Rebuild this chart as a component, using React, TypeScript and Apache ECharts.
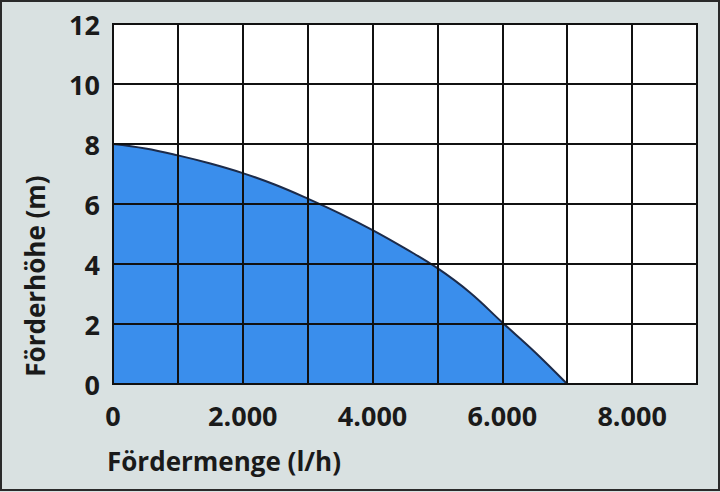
import React, { useEffect, useRef } from "react";
import * as echarts from "echarts";

const flowRates = [0, 500, 1000, 1500, 2000, 2500, 3000, 3500, 4000, 4500, 5000, 5500, 6000, 6500, 7000];
const heads = [8, 7.85, 7.62, 7.35, 7.03, 6.64, 6.18, 5.68, 5.13, 4.52, 3.86, 3.05, 2.05, 1.07, 0];
const xAxisName = "Fördermenge (l/h)";
const yAxisName = "Förderhöhe (m)";

const FONT = "'Open Sans', 'DejaVu Sans', sans-serif";

function fmtThousands(v: number): string {
  if (v === 0) return "0";
  const s = String(Math.round(v));
  return s.replace(/\B(?=(\d{3})+(?!\d))/g, ".");
}

export default function App() {
  const ref = useRef<HTMLDivElement>(null);
  useEffect(() => {
    if (!ref.current) return;
    const chart = echarts.init(ref.current, undefined, { renderer: "svg" });
    chart.setOption({
      animation: false,
      backgroundColor: "#d9e1e1",
      grid: {
        left: 113,
        top: 24,
        right: 23,
        bottom: 108,
        containLabel: false,
        outerBoundsMode: "none",
        show: true,
        backgroundColor: "#ffffff",
        borderColor: "#111111",
        borderWidth: 2,
      },
      graphic: [
        {
          type: "rect",
          shape: { x: 1, y: 1, width: 718, height: 489 },
          style: { fill: "none", stroke: "#2a2a2a", lineWidth: 2 },
          silent: true,
        },
        {
          type: "text",
          x: 107,
          y: 461,
          style: {
            text: xAxisName,
            fontFamily: FONT,
            fontWeight: "bold",
            fontSize: 26,
            fill: "#1a1a1a",
            align: "left",
            verticalAlign: "middle",
          },
          silent: true,
        },
        {
          type: "text",
          x: 35,
          y: 276,
          rotation: Math.PI / 2,
          style: {
            text: yAxisName,
            fontFamily: FONT,
            fontWeight: "bold",
            fontSize: 26,
            fill: "#1a1a1a",
            align: "center",
            verticalAlign: "middle",
          },
          silent: true,
        },
      ],
      xAxis: {
        type: "value",
        min: 0,
        max: 9000,
        interval: 1000,
        z: 5,
        axisLine: { show: true, lineStyle: { color: "#111111", width: 2 } },
        axisTick: { show: false },
        splitLine: { show: true, lineStyle: { color: "#111111", width: 2 } },
        axisLabel: {
          margin: 18,
          fontFamily: FONT,
          fontWeight: "bold",
          fontSize: 27,
          color: "#1a1a1a",
          formatter: (v: number) => (v % 2000 === 0 && v < 9000 ? fmtThousands(v) : ""),
        },
      },
      yAxis: {
        type: "value",
        min: 0,
        max: 12,
        interval: 2,
        z: 5,
        axisLine: { show: true, lineStyle: { color: "#111111", width: 2 } },
        axisTick: { show: false },
        splitLine: { show: true, lineStyle: { color: "#111111", width: 2 } },
        axisLabel: {
          margin: 13,
          fontFamily: FONT,
          fontWeight: "bold",
          fontSize: 27,
          color: "#1a1a1a",
        },
      },
      series: [
        {
          type: "line",
          z: 1,
          smooth: 0.4,
          showSymbol: false,
          data: flowRates.map((x, i) => [x, heads[i]]),
          lineStyle: { color: "#1c2b4a", width: 2 },
          areaStyle: { color: "#3a8eec", opacity: 1 },
        },
      ],
    });
    return () => chart.dispose();
  }, []);
  return (
    <div
      ref={ref}
      style={{ position: "fixed", left: 0, top: 0, width: 720, height: 492 }}
    />
  );
}
